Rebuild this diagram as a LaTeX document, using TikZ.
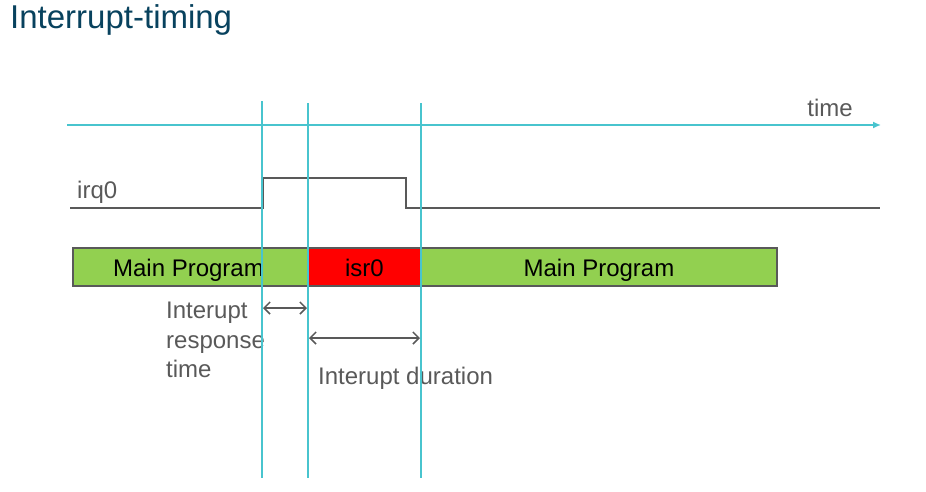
\documentclass[tikz,border=0pt]{standalone}
\usepackage{fontspec}
\setmainfont{Liberation Sans}
\usepackage{tikz}
\usetikzlibrary{calc}
\usetikzlibrary{arrows.meta,positioning}
\definecolor{timeTeal}{RGB}{72,196,206}
\definecolor{sigGray}{RGB}{89,89,89}
\definecolor{progGreen}{RGB}{146,208,80}
\definecolor{titleBlue}{RGB}{8,66,94}
\tikzstyle{bar} = [rectangle, draw=sigGray, line width=1.2pt, outer sep=0pt,
    minimum height=38pt, inner sep=0pt, text height=19pt, text depth=0pt, text=black]
\tikzstyle{marker} = [draw=timeTeal, line width=1.5pt]
\tikzstyle{signal} = [draw=sigGray, line width=1.3pt]
\tikzstyle{span} = [draw=sigGray, line width=1.5pt, {Straight Barb[length=6pt,width=12pt]}-{Straight Barb[length=6pt,width=12pt]}]
\tikzstyle{lbl} = [text=sigGray, inner sep=0pt]

\begin{document}
\begin{tikzpicture}[x=1pt, y=-1pt, font=\fontsize{24}{29}\selectfont]
\useasboundingbox (0,0) rectangle (926,491);
%Title:
\node[anchor=west, text=titleBlue, font=\fontsize{33}{38}\selectfont, inner sep=0pt] (T) at (10,20) {Interrupt-timing};
%Time axis:
\coordinate (time_start) at (67,125);
\coordinate (time_end) at (881,125);
\path (time_start) edge[marker, -{Latex[length=8pt,width=7pt]}] (time_end);
\node[lbl, anchor=base] (time_l) at (830,116) {time};
%irq0 signal:
\node[lbl, anchor=base west] (irq_l) at (77,198) {irq0};
\coordinate (irq_a) at (70,208);
\coordinate (irq_b) at (263,208);
\coordinate (irq_c) at (263,178);
\coordinate (irq_d) at (406,178);
\coordinate (irq_e) at (406,208);
\coordinate (irq_f) at (880,208);
\draw[signal] (irq_a) -- (irq_b) -- (irq_c) -- (irq_d) -- (irq_e) -- (irq_f);
%Program bars:
\node[bar, fill=progGreen, minimum width=235pt, anchor=north west] (MP_a) at (73,248) {\hspace*{-4pt}Main Program};
\node[bar, fill=red, minimum width=113pt, right=0pt of MP_a] (ISR) {isr0};
\node[bar, fill=progGreen, minimum width=356pt, right=0pt of ISR] (MP_b) {Main Program};
%Timing labels:
\node[lbl, anchor=north west, align=left, font=\fontsize{24}{29.5}\selectfont] (resp_l) at (166,302) {Interupt\\response\\time};
\node[lbl, anchor=base west] (dur_l) at (318,384) {Interupt duration};
%Markers:
\coordinate (M1_top) at (262,101);
\coordinate (M1_bot) at (262,478);
\coordinate (M2_top) at (308,103);
\coordinate (M2_bot) at (308,478);
\coordinate (M3_top) at (421,103);
\coordinate (M3_bot) at (421,478);
\path (M1_top) edge[marker] (M1_bot);
\path (M2_top) edge[marker] (M2_bot);
\path (M3_top) edge[marker] (M3_bot);
%Spans:
\coordinate (resp_a) at (263,308);
\coordinate (resp_b) at (307,308);
\coordinate (dur_a) at (309,338);
\coordinate (dur_b) at (420,338);
\path (resp_a) edge[span] (resp_b);
\path (dur_a) edge[span] (dur_b);
\end{tikzpicture}
\end{document}
